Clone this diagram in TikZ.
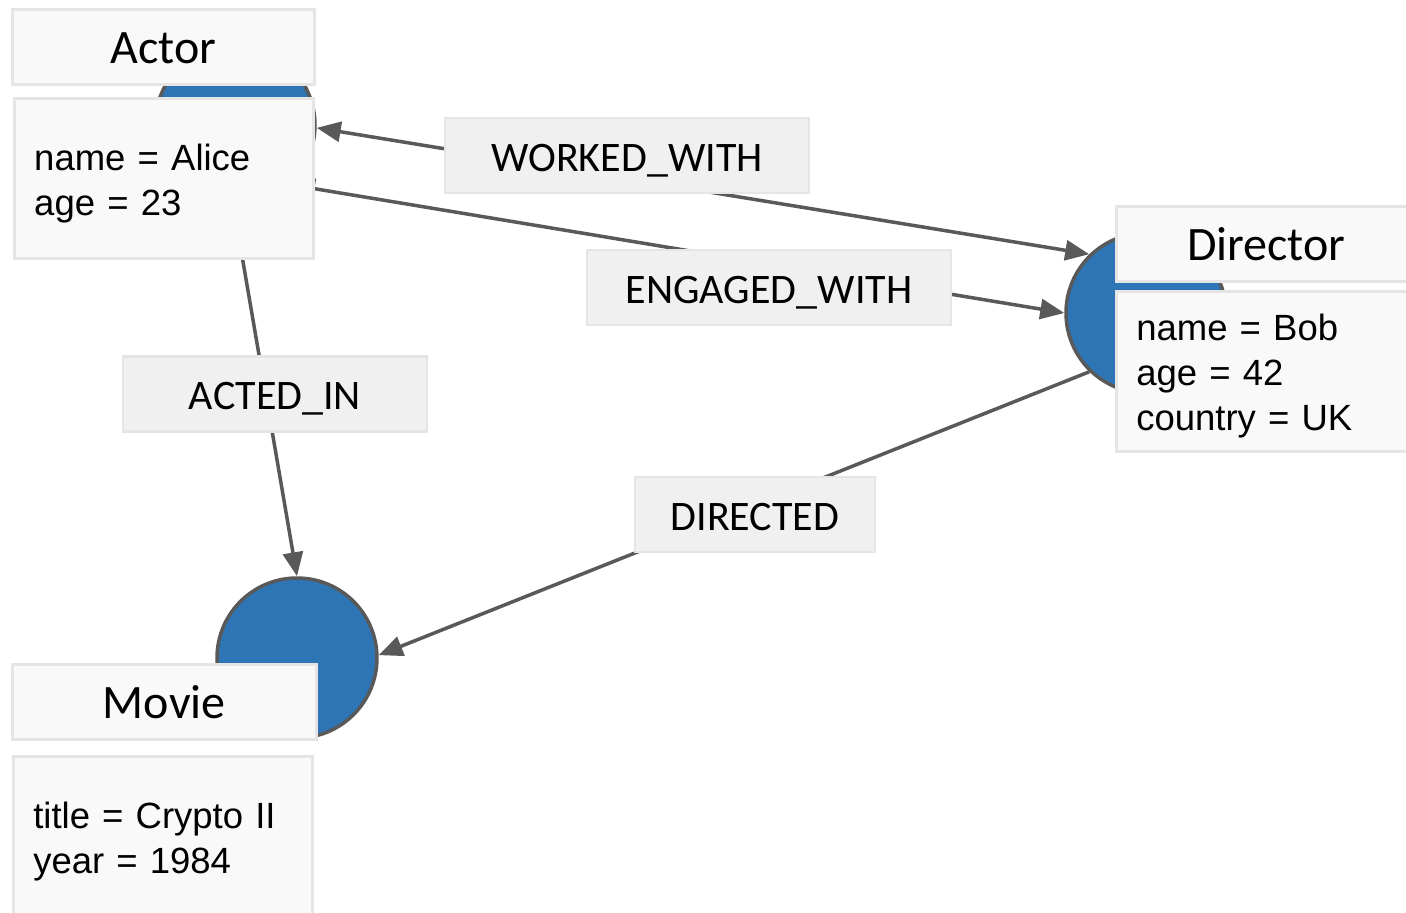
\documentclass[tikz,border=0pt]{standalone}
\usepackage{fontspec}
\setmainfont{Liberation Sans}
\newfontfamily\calibri{Carlito}
\usetikzlibrary{arrows.meta}
\definecolor{nodeblue}{RGB}{46,117,182}
\definecolor{edgegrey}{RGB}{89,89,89}
\definecolor{boxline}{RGB}{229,229,229}
\definecolor{headfill}{RGB}{249,249,249}
\definecolor{labelfill}{RGB}{240,240,240}
\tikzset{
  tip/.tip={Triangle[length=24pt,width=20pt]},
  entity/.style={circle, draw=edgegrey, line width=3.5pt, fill=nodeblue, minimum size=160pt, inner sep=0pt},
  typebox/.style={draw=boxline, line width=2.5pt, fill=headfill, anchor=north west, minimum height=75pt, inner sep=0pt, text height=34pt, text depth=0pt, font=\calibri\fontsize{48}{52}\selectfont},
  propbox/.style={draw=boxline, line width=2.5pt, fill=headfill, anchor=north west, minimum height=160pt, inner xsep=20pt, inner ysep=0pt, align=left, font=\fontsize{36.5}{45}\selectfont, execute at begin node={\rule{0pt}{37pt}}},
  rellabel/.style={draw=boxline, line width=2.5pt, fill=labelfill, minimum height=75pt, inner sep=0pt, text height=31pt, text depth=0pt, font=\calibri\fontsize{42}{46}\selectfont},
  rel/.style={draw=edgegrey, line width=3.5pt, -tip},
  relboth/.style={draw=edgegrey, line width=3.5pt, tip-tip}
}
\begin{document}
\begin{tikzpicture}[x=1pt,y=-1pt]
        \useasboundingbox (0,0) rectangle (1406,913);
        % Entities %
        \node [entity] (actorc) at (235,125) {};
        \node [entity] (directorc) at (1146,313) {};
        \node [entity] (moviec) at (297,658) {};
        % Relations %
        \draw [relboth] (directorc.134) -- (actorc.-2);
        \draw [relboth] (directorc.180) -- (actorc.-47);
        \draw [rel] (actorc.-91) -- (moviec.90);
        \draw [rel] (directorc.226) -- (moviec.2);
        \node [rellabel, minimum width=364pt] (worked) at (627,155.5) {WORKED\_WITH};
        \node [rellabel, minimum width=364pt] (engaged) at (769,287.5) {ENGAGED\_WITH};
        \node [rellabel, minimum width=304pt] (acted) at (275,394) {ACTED\_IN};
        \node [rellabel, minimum width=240pt] (directed) at (755,514.5) {DIRECTED};
        % Boxes %
        \node [typebox, minimum width=302pt] (actor) at (11,8) {Actor};
        \node [propbox, text width=259pt] (actorprops) at (13,97) {name = Alice\\age = 23};
        \node [typebox, minimum width=300pt] (director) at (1115,205) {Director};
        \node [propbox, text width=260pt] (directorprops) at (1115,290) {name = Bob\\age = 42\\country = UK};
        \node [typebox, minimum width=304pt] (movie) at (11,663) {Movie};
        \node [propbox, text width=259pt] (movieprops) at (12,755) {title = Crypto II\\year = 1984};
\end{tikzpicture}
\end{document}
